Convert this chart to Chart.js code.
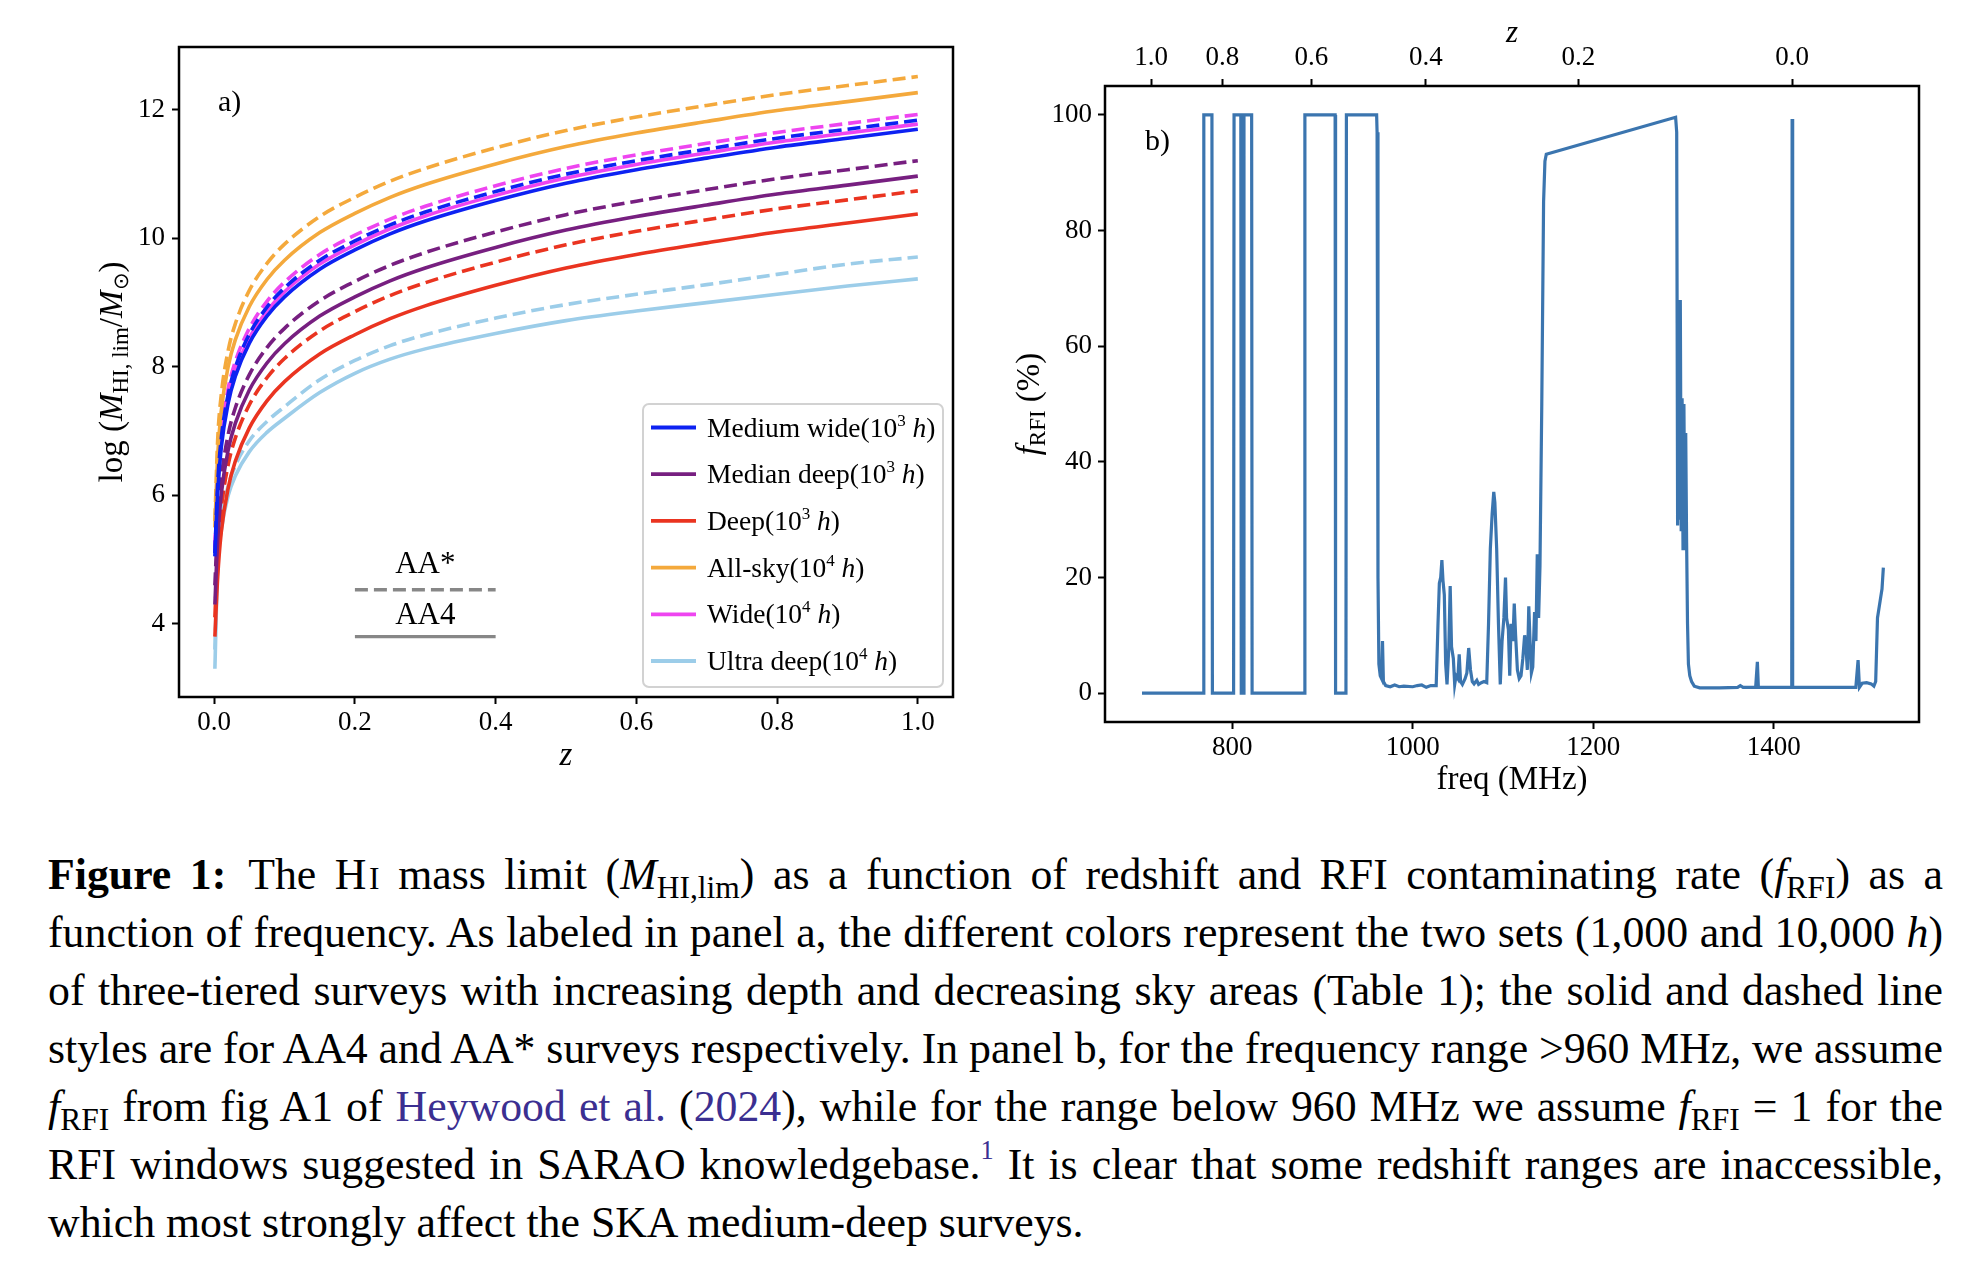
<!DOCTYPE html>
<html>
<head>
<meta charset="utf-8">
<script src="https://cdn.jsdelivr.net/npm/chart.js@4.4.1/dist/chart.umd.min.js"></script>
<style>
  body { margin: 0; background: #fff; width: 1977px; height: 1266px; position: relative; overflow: hidden; font-family: "Liberation Serif", serif; }
  #chartA { position: absolute; left: 60px; top: 0; }
  #chartB { position: absolute; left: 1000px; top: 0; }
  .cap { position: absolute; left: 48px; top: 845px; width: 1895px; font-size: 43.8px; line-height: 58px; color: #000; }
  .ln { display: block; white-space: nowrap; height: 58px; }
  sub { font-size: 0.72em; vertical-align: -0.3em; line-height: 0; }
  sup { font-size: 0.6em; vertical-align: 0.75em; line-height: 0; }
  .sc { font-size: 0.72em; }
  .lk { color: #3b2f91; }
</style>
</head>
<body>
<canvas id="chartA" width="920" height="800"></canvas>
<canvas id="chartB" width="977" height="800"></canvas>

<div class="cap">
<div class="ln"><span><b>Figure 1:</b>&ensp;The H<span class="sc">&#8202;I</span> mass limit (<i>M</i><sub>HI,lim</sub>) as a function of redshift and RFI contaminating rate (<i>f</i><sub>RFI</sub>) as a</span></div>
<div class="ln"><span>function of frequency. As labeled in panel a, the different colors represent the two sets (1,000 and 10,000 <i>h</i>)</span></div>
<div class="ln"><span>of three-tiered surveys with increasing depth and decreasing sky areas (Table 1); the solid and dashed line</span></div>
<div class="ln"><span>styles are for AA4 and AA* surveys respectively. In panel b, for the frequency range &gt;960 MHz, we assume</span></div>
<div class="ln"><span><i>f</i><sub>RFI</sub> from fig A1 of <span class="lk">Heywood et al.</span> (<span class="lk">2024</span>), while for the range below 960 MHz we assume <i>f</i><sub>RFI</sub> = 1 for the</span></div>
<div class="ln"><span>RFI windows suggested in SARAO knowledgebase.<sup class="lk">1</sup> It is clear that some redshift ranges are inaccessible,</span></div>
<div class="ln"><span>which most strongly affect the SKA medium-deep surveys.</span></div>
</div>

<script>
// panel a: redshift grid and log HI mass limits (AA4 solid, AA* dashed)
const zGrid = [0.001, 0.005, 0.01, 0.02, 0.03, 0.05, 0.075, 0.1, 0.15, 0.2, 0.25, 0.3, 0.4, 0.5, 0.6, 0.7, 0.8, 0.9, 1.0];

const mediumWideAA4    = [5.05, 6.05, 6.74, 7.44, 7.85, 8.37, 8.79, 9.09, 9.52, 9.82, 10.07, 10.27, 10.59, 10.86, 11.07, 11.25, 11.42, 11.56, 11.70];
const mediumWideAAstar = [5.10, 6.19, 6.88, 7.58, 7.99, 8.51, 8.93, 9.23, 9.66, 9.96, 10.21, 10.41, 10.73, 11.00, 11.21, 11.39, 11.56, 11.70, 11.84];
const medianDeepAA4    = [4.30, 5.32, 6.01, 6.71, 7.12, 7.64, 8.06, 8.36, 8.79, 9.09, 9.34, 9.54, 9.86, 10.13, 10.34, 10.52, 10.69, 10.83, 10.97];
const medianDeepAAstar = [4.60, 5.56, 6.25, 6.95, 7.36, 7.88, 8.30, 8.60, 9.03, 9.33, 9.58, 9.78, 10.10, 10.37, 10.58, 10.76, 10.93, 11.07, 11.21];
const deepAA4          = [3.80, 4.73, 5.42, 6.12, 6.53, 7.05, 7.47, 7.77, 8.20, 8.50, 8.75, 8.95, 9.27, 9.54, 9.75, 9.93, 10.10, 10.24, 10.38];
const deepAAstar       = [4.10, 5.09, 5.78, 6.48, 6.89, 7.41, 7.83, 8.13, 8.56, 8.86, 9.11, 9.31, 9.63, 9.90, 10.11, 10.29, 10.46, 10.60, 10.74];
const allSkyAA4        = [5.50, 6.62, 7.31, 8.01, 8.42, 8.94, 9.36, 9.66, 10.09, 10.39, 10.64, 10.84, 11.16, 11.43, 11.64, 11.82, 11.99, 12.13, 12.27];
const allSkyAAstar     = [5.60, 6.87, 7.56, 8.26, 8.67, 9.19, 9.61, 9.91, 10.34, 10.64, 10.89, 11.09, 11.41, 11.68, 11.89, 12.07, 12.24, 12.38, 12.52];
const wideAA4          = [5.10, 6.13, 6.82, 7.52, 7.93, 8.45, 8.87, 9.17, 9.60, 9.90, 10.15, 10.35, 10.67, 10.94, 11.15, 11.33, 11.50, 11.64, 11.78];
const wideAAstar       = [5.20, 6.28, 6.97, 7.67, 8.08, 8.60, 9.02, 9.32, 9.75, 10.05, 10.30, 10.50, 10.82, 11.09, 11.30, 11.48, 11.65, 11.79, 11.93];
const ultraDeepAA4     = [3.30, 4.90, 5.45, 6.00, 6.30, 6.68, 6.98, 7.20, 7.60, 7.90, 8.12, 8.28, 8.52, 8.72, 8.87, 9.00, 9.13, 9.26, 9.37];
const ultraDeepAAstar  = [3.60, 5.05, 5.60, 6.15, 6.46, 6.85, 7.15, 7.38, 7.80, 8.10, 8.33, 8.50, 8.76, 8.97, 9.13, 9.28, 9.44, 9.60, 9.71];

const surveyNames = ['Medium wide', 'Median deep', 'Deep', 'All-sky', 'Wide', 'Ultra deep'];
const surveyHoursExp = ['3', '3', '3', '4', '4', '4'];

// little AA*/AA4 key inside panel a
const aaKeyZ = [0.2, 0.4];
const aaStarLevel = 4.53;
const aa4Level = 3.80;

const zTicksA = [0, 0.2, 0.4, 0.6, 0.8, 1.0];
const massTicks = [4, 6, 8, 10, 12];

// panel b: RFI contamination vs frequency
const rfiFreq = [
  700, 768, 768.5, 777.5, 778, 801.5, 802, 809.5, 810, 812.5,
  813, 821.5, 822, 880, 880.5, 914, 914.5, 926, 926.5, 960,
  960.5, 961.5, 962.5, 964, 965.5, 966.5, 967.5, 970, 975, 980,
  985, 990, 1000, 1005, 1010, 1015, 1020, 1026, 1028, 1029.5,
  1031, 1032.3, 1033.5, 1035, 1036.5, 1038, 1040, 1041.5, 1043, 1045,
  1046.5, 1048, 1050, 1051.5, 1053, 1055, 1058, 1060, 1062, 1064,
  1066, 1068, 1071, 1073, 1076, 1079, 1082, 1084, 1086, 1088,
  1089.8, 1091, 1093, 1095, 1097, 1099, 1101, 1102.8, 1104, 1106,
  1107.5, 1109, 1111, 1112.5, 1114, 1116, 1118, 1120, 1122, 1124,
  1125.5, 1127, 1128.6, 1130, 1131.5, 1133, 1135, 1136.5, 1138, 1139.5,
  1141, 1143, 1145, 1146.5, 1148, 1291.3, 1292.5, 1293, 1293.5, 1294.5,
  1295.5, 1296.5, 1297.5, 1298.5, 1299.5, 1300.5, 1301.5, 1302.5, 1303.5, 1304.5,
  1305.5, 1307, 1309, 1312, 1318, 1340, 1360, 1363, 1366, 1380,
  1381.9, 1383, 1420, 1420.4, 1420.8, 1421.2, 1470, 1491, 1493.5, 1495,
  1498, 1503, 1508, 1511, 1513, 1515, 1518, 1520, 1521.5
];
const rfiPct = [
  0, 0, 100, 100, 0, 0, 100, 100, 0, 0,
  100, 100, 0, 0, 100, 100, 0, 0, 100, 100,
  97, 20, 5, 3, 2.5, 9, 2, 1.3, 1.1, 1.4,
  1.1, 1.2, 1.1, 1.3, 1.4, 1.0, 1.3, 1.3, 12, 19,
  20, 23, 19.5, 17, 5, 1.5, 8, 18.5, 8, 6,
  1.5, 3, 2.5, 6.7, 2, 1.5, 2.5, 3.5, 7.8, 4,
  2, 1.6, 2.2, 1.5, 1.8, 2, 1.8, 12, 25, 31,
  34.8, 33, 25, 12, 1.5, 9, 13, 20, 13, 11,
  3, 12, 9, 15.5, 10, 4, 2.5, 3, 6, 10,
  8, 4, 15, 9, 3.5, 4.5, 14, 9, 24, 13,
  22, 50, 85, 92, 93.2, 99.6, 97, 64, 29, 68,
  30, 68, 28, 51, 25, 50, 27, 45, 26, 12,
  5, 3, 2, 1.2, 0.9, 0.9, 1.0, 1.3, 1.0, 1.0,
  5.4, 1.0, 1.0, 99.3, 80, 1.0, 1.0, 1.0, 5.7, 1.0,
  1.7, 1.8, 1.6, 1.2, 2, 13, 16, 18, 21.7
];

const freqTicks = [800, 1000, 1200, 1400];
const pctTicks = [0, 20, 40, 60, 80, 100];
const zTicksTop = [1.0, 0.8, 0.6, 0.4, 0.2, 0.0];
const HI_REST_MHZ = 1420.405;

// ---------- styling ----------
const surveyColors = ['#0d22f2', '#771f80', '#ea3420', '#f4a93c', '#ee45f0', '#9ccde9'];
const lineBlue = '#3b75af';
const SERIF = '"Liberation Serif", serif';
const font = (px, style) => (style ? style + ' ' : '') + px + 'px ' + SERIF;
const tickFont = { family: 'Liberation Serif', size: 27 };

Chart.defaults.color = '#000';

function tickGrid() {
  return { display: true, drawOnChartArea: false, drawTicks: true, tickLength: 7, tickWidth: 2, tickColor: '#000', color: '#000' };
}

function drawRich(ctx, segs, x, y, align) {
  let w = 0;
  segs.forEach(s => { ctx.font = s.font; w += ctx.measureText(s.t).width; });
  let cx = align === 'center' ? x - w / 2 : x;
  ctx.textAlign = 'left';
  ctx.textBaseline = 'alphabetic';
  segs.forEach(s => {
    ctx.font = s.font;
    ctx.fillText(s.t, cx, y + (s.dy || 0));
    cx += ctx.measureText(s.t).width;
  });
}

function roundRectPath(ctx, x, y, w, h, r) {
  ctx.beginPath();
  ctx.moveTo(x + r, y);
  ctx.arcTo(x + w, y, x + w, y + h, r);
  ctx.arcTo(x + w, y + h, x, y + h, r);
  ctx.arcTo(x, y + h, x, y, r);
  ctx.arcTo(x, y, x + w, y, r);
  ctx.closePath();
}

// ---------- panel a ----------
const aa4Sets = [mediumWideAA4, medianDeepAA4, deepAA4, allSkyAA4, wideAA4, ultraDeepAA4];
const aaStarSets = [mediumWideAAstar, medianDeepAAstar, deepAAstar, allSkyAAstar, wideAAstar, ultraDeepAAstar];

const datasetsA = [];
surveyNames.forEach((name, i) => {
  datasetsA.push({
    label: name + ' AA4',
    data: zGrid.map((z, j) => ({ x: z, y: aa4Sets[i][j] })),
    borderColor: surveyColors[i], borderWidth: 3.6, pointRadius: 0,
    cubicInterpolationMode: 'monotone'
  });
  datasetsA.push({
    label: name + ' AA*',
    data: zGrid.map((z, j) => ({ x: z, y: aaStarSets[i][j] })),
    borderColor: surveyColors[i], borderWidth: 3.6, pointRadius: 0, borderDash: [13, 6],
    cubicInterpolationMode: 'monotone'
  });
});
datasetsA.push({
  label: 'AA* key', data: aaKeyZ.map(z => ({ x: z, y: aaStarLevel })),
  borderColor: '#878787', borderWidth: 3.4, pointRadius: 0, borderDash: [13, 6]
});
datasetsA.push({
  label: 'AA4 key', data: aaKeyZ.map(z => ({ x: z, y: aa4Level })),
  borderColor: '#878787', borderWidth: 3.4, pointRadius: 0
});

const panelAPlugin = {
  id: 'panelA',
  afterDraw(chart) {
    const { ctx, chartArea: ca, scales } = chart;
    ctx.save();
    ctx.strokeStyle = '#000';
    ctx.lineWidth = 2.5;
    ctx.strokeRect(ca.left, ca.top, ca.width, ca.height);

    // legend box
    const lw = 300, lh = 283;
    const lx = ca.right - 10 - lw, ly = ca.bottom - 10 - lh;
    roundRectPath(ctx, lx, ly, lw, lh, 6);
    ctx.fillStyle = 'rgba(255,255,255,0.85)';
    ctx.fill();
    ctx.strokeStyle = '#d2d2d2';
    ctx.lineWidth = 2;
    ctx.stroke();
    surveyNames.forEach((name, i) => {
      const ry = ly + 23.5 + i * 46.7;
      ctx.strokeStyle = surveyColors[i];
      ctx.lineWidth = 3.8;
      ctx.beginPath();
      ctx.moveTo(lx + 8, ry);
      ctx.lineTo(lx + 53, ry);
      ctx.stroke();
      ctx.fillStyle = '#000';
      drawRich(ctx, [
        { t: name + '(10', font: font(27.5) },
        { t: surveyHoursExp[i], font: font(17), dy: -11 },
        { t: ' h', font: font(27.5, 'italic') },
        { t: ')', font: font(27.5) }
      ], lx + 64, ry + 9, 'left');
    });

    ctx.fillStyle = '#000';
    drawRich(ctx, [{ t: 'a)', font: font(30) }], ca.left + 39, ca.top + 64, 'left');
    const kx = scales.x.getPixelForValue((aaKeyZ[0] + aaKeyZ[1]) / 2);
    drawRich(ctx, [{ t: 'AA*', font: font(31) }], kx, scales.y.getPixelForValue(aaStarLevel) - 17, 'center');
    drawRich(ctx, [{ t: 'AA4', font: font(31) }], kx, scales.y.getPixelForValue(aa4Level) - 13, 'center');

    // axis titles
    drawRich(ctx, [{ t: 'z', font: font(33, 'italic') }], (ca.left + ca.right) / 2, ca.bottom + 68, 'center');
    ctx.translate(ca.left - 57, (ca.top + ca.bottom) / 2);
    ctx.rotate(-Math.PI / 2);
    drawRich(ctx, [
      { t: 'log (', font: font(33) },
      { t: 'M', font: font(33, 'italic') },
      { t: 'HI, lim', font: font(23), dy: 6 },
      { t: '/', font: font(33) },
      { t: 'M', font: font(33, 'italic') },
      { t: '\u2299', font: font(21), dy: 6 },
      { t: ')', font: font(33) }
    ], 0, 0, 'center');
    ctx.restore();
  }
};

new Chart(document.getElementById('chartA'), {
  type: 'line',
  data: { datasets: datasetsA },
  options: {
    responsive: false,
    animation: false,
    layout: { padding: { left: 0, right: 27, top: 47, bottom: 0 } },
    plugins: { legend: { display: false }, tooltip: { enabled: false } },
    scales: {
      x: {
        type: 'linear', min: -0.05, max: 1.05,
        afterBuildTicks: s => { s.ticks = zTicksA.map(v => ({ value: v })); },
        afterFit: s => { s.height = 103; },
        ticks: { font: tickFont, color: '#000', padding: 3, maxRotation: 0, autoSkip: false, callback: v => v.toFixed(1) },
        grid: tickGrid(),
        border: { display: false }
      },
      y: {
        type: 'linear', min: 2.86, max: 12.98,
        afterBuildTicks: s => { s.ticks = massTicks.map(v => ({ value: v })); },
        afterFit: s => { s.width = 119; },
        ticks: { font: tickFont, color: '#000', padding: 7, autoSkip: false, callback: v => String(v) },
        grid: tickGrid(),
        border: { display: false }
      }
    }
  },
  plugins: [panelAPlugin]
});

// ---------- panel b ----------
const panelBPlugin = {
  id: 'panelB',
  afterDraw(chart) {
    const { ctx, chartArea: ca } = chart;
    ctx.save();
    ctx.strokeStyle = '#000';
    ctx.lineWidth = 2.5;
    ctx.strokeRect(ca.left, ca.top, ca.width, ca.height);
    ctx.fillStyle = '#000';
    drawRich(ctx, [{ t: 'b)', font: font(30) }], ca.left + 40, ca.top + 64, 'left');
    drawRich(ctx, [{ t: 'freq (MHz)', font: font(33) }], (ca.left + ca.right) / 2, ca.bottom + 67, 'center');
    drawRich(ctx, [{ t: 'z', font: font(31, 'italic') }], (ca.left + ca.right) / 2, ca.top - 44, 'center');
    ctx.translate(ca.left - 66, (ca.top + ca.bottom) / 2);
    ctx.rotate(-Math.PI / 2);
    drawRich(ctx, [
      { t: 'f', font: font(33, 'italic') },
      { t: 'RFI', font: font(23), dy: 6 },
      { t: ' (%)', font: font(33) }
    ], 0, 0, 'center');
    ctx.restore();
  }
};

new Chart(document.getElementById('chartB'), {
  type: 'line',
  data: {
    datasets: [{
      label: 'f_RFI',
      data: rfiFreq.map((f, i) => ({ x: f, y: rfiPct[i] })),
      borderColor: lineBlue, borderWidth: 3.2, pointRadius: 0, tension: 0
    }]
  },
  options: {
    responsive: false,
    animation: false,
    layout: { padding: { left: 0, right: 58, top: 0, bottom: 0 } },
    plugins: { legend: { display: false }, tooltip: { enabled: false } },
    scales: {
      x: {
        type: 'linear', position: 'bottom', min: 659, max: 1561,
        afterBuildTicks: s => { s.ticks = freqTicks.map(v => ({ value: v })); },
        afterFit: s => { s.height = 78; },
        ticks: { font: tickFont, color: '#000', padding: 3, maxRotation: 0, autoSkip: false, callback: v => String(v) },
        grid: tickGrid(),
        border: { display: false }
      },
      x2: {
        type: 'linear', position: 'top', min: 659, max: 1561,
        afterBuildTicks: s => { s.ticks = zTicksTop.map(z => ({ value: HI_REST_MHZ / (1 + z) })); },
        afterFit: s => { s.height = 86; },
        ticks: { font: tickFont, color: '#000', padding: 5, maxRotation: 0, autoSkip: false, callback: (v, i) => zTicksTop[i].toFixed(1) },
        grid: tickGrid(),
        border: { display: false }
      },
      y: {
        type: 'linear', min: -5, max: 105,
        afterBuildTicks: s => { s.ticks = pctTicks.map(v => ({ value: v })); },
        afterFit: s => { s.width = 105; },
        ticks: { font: tickFont, color: '#000', padding: 6, autoSkip: false, callback: v => String(v) },
        grid: tickGrid(),
        border: { display: false }
      }
    }
  },
  plugins: [panelBPlugin]
});

// ---------- caption: justify each line to the full width ----------
function justifyCaption() {
  const lines = document.querySelectorAll('.cap .ln');
  lines.forEach((ln, i) => {
    const span = ln.firstElementChild;
    ln.style.wordSpacing = '0px';
    if (i === lines.length - 1) return;
    const w = span.getBoundingClientRect().width;
    const n = span.textContent.split(' ').length - 1;
    if (n > 0) ln.style.wordSpacing = ((1895 - w) / n) + 'px';
  });
}
justifyCaption();
if (document.fonts && document.fonts.ready) document.fonts.ready.then(justifyCaption);
</script>
</body>
</html>
